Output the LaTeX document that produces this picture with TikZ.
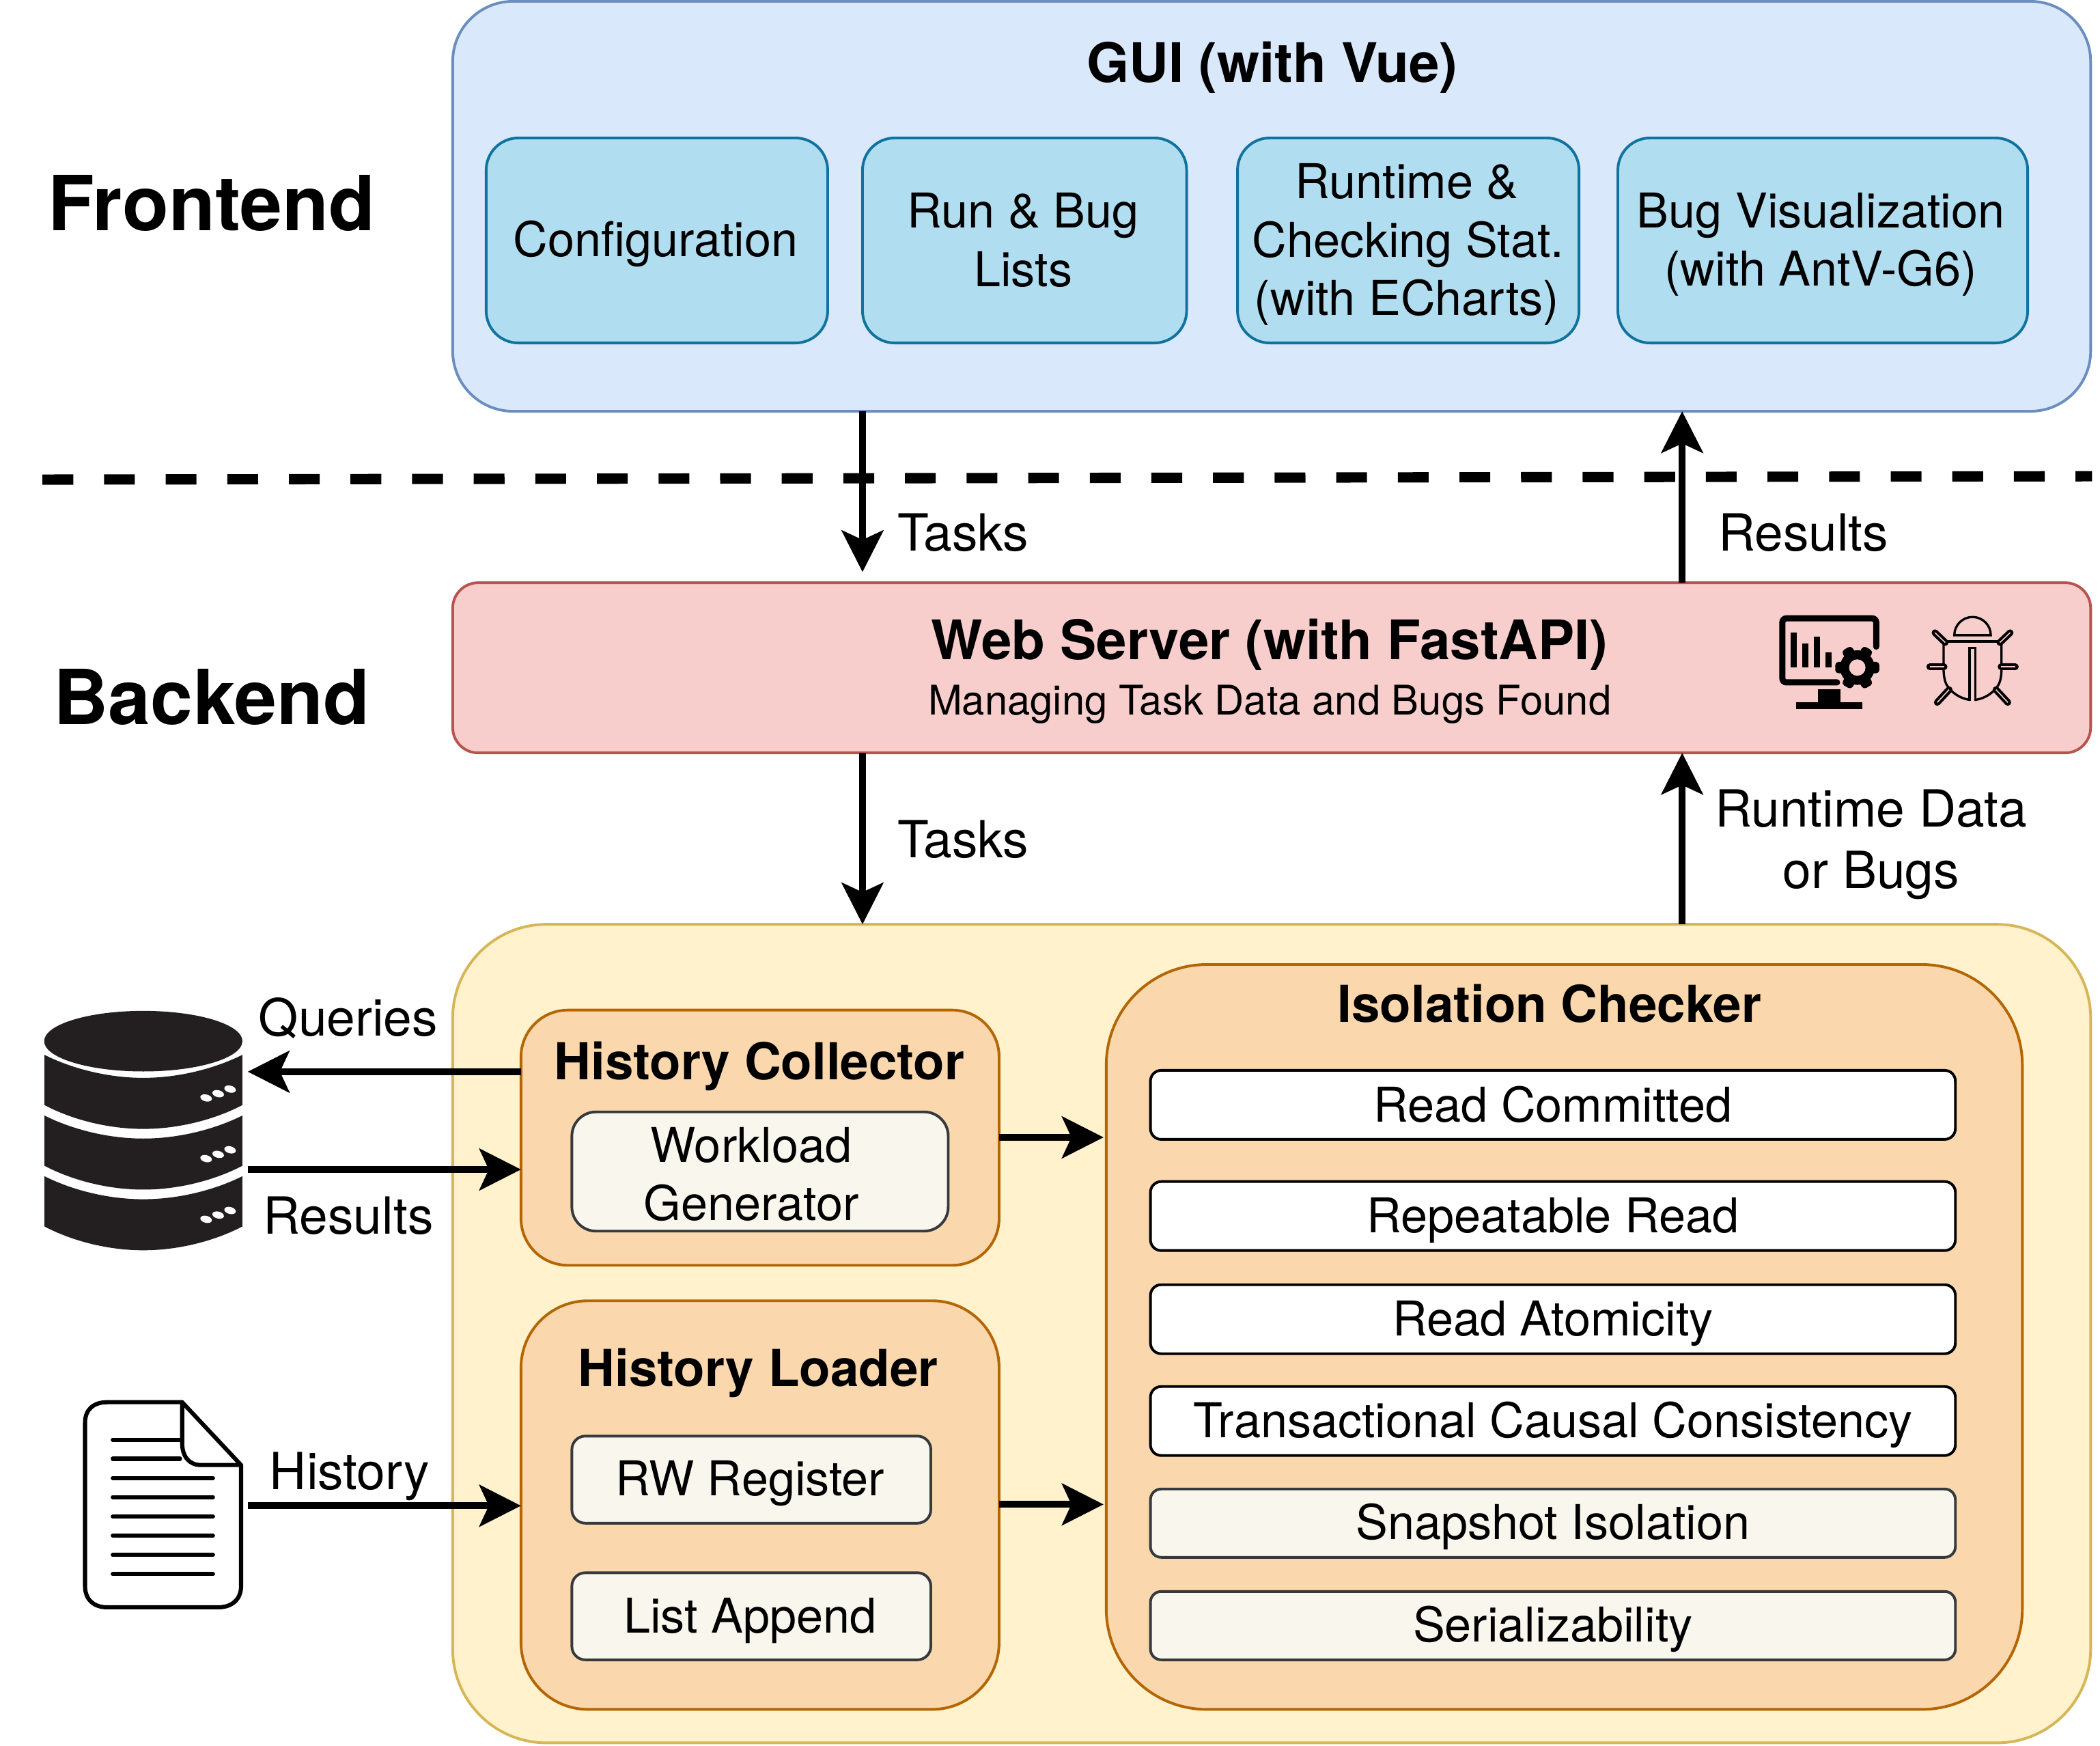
\documentclass[tikz,border=0pt]{standalone}
\usepackage{fontspec}
\setmainfont{TeX Gyre Heros}
\usetikzlibrary{arrows.meta}
\definecolor{guiF}{HTML}{DAE8FC}\definecolor{guiD}{HTML}{6C8EBF}
\definecolor{subF}{HTML}{B1DDF0}\definecolor{subD}{HTML}{10739E}
\definecolor{webF}{HTML}{F8CECC}\definecolor{webD}{HTML}{B85450}
\definecolor{ylwF}{HTML}{FFF2CC}\definecolor{ylwD}{HTML}{D6B656}
\definecolor{orgF}{HTML}{FAD7AC}\definecolor{orgD}{HTML}{B46504}
\definecolor{crmF}{HTML}{F9F7ED}\definecolor{crmD}{HTML}{36393D}
\definecolor{dbk}{HTML}{231F20}
\newcommand{\st}{\rule[-.2em]{0pt}{1.1em}}
% name, x1,y1,x2,y2, style, text
\newcommand{\bx}[7]{\node[#6,minimum width={(#4-#2)*1pt},minimum height={(#5-#3)*1pt}] (#1) at ({(#2+#4)/2},{(#3+#5)/2}) {#7};}
\tikzset{
 box/.style={draw,rectangle,inner sep=0pt,outer sep=0pt,line width=2pt,align=center,font=\fontsize{35.8}{43.5}\selectfont},
 guibox/.style={box,fill=guiF,draw=guiD,rounded corners=45pt},
 subbox/.style={box,fill=subF,draw=subD,rounded corners=24pt},
 webbox/.style={box,fill=webF,draw=webD,rounded corners=19pt},
 ylwbox/.style={box,fill=ylwF,draw=ylwD,rounded corners=70pt},
 orgbox/.style={box,fill=orgF,draw=orgD,rounded corners=#1},
 crmbox/.style={box,fill=crmF,draw=crmD,rounded corners=#1},
 whtbox/.style={box,fill=white,draw=black,rounded corners=8pt},
 lbl/.style={inner sep=0pt,outer sep=0pt,align=center,font=\fontsize{38.2}{46}\selectfont},
 ttl/.style={inner sep=0pt,outer sep=0pt,font=\fontsize{38}{46}\selectfont\bfseries},
 ttlb/.style={inner sep=0pt,outer sep=0pt,font=\fontsize{40.7}{46}\selectfont\bfseries},
 big/.style={inner sep=0pt,outer sep=0pt,font=\fontsize{56.7}{60}\selectfont\bfseries},
 anchorbox/.style={inner sep=0pt,outer sep=0pt,rectangle},
 conn/.style={line width=5.2pt,-{Stealth[length=31pt,width=31pt,inset=7pt]}},
}
\begin{document}
\begin{tikzpicture}[x=1pt,y=-1pt]
\useasboundingbox (0,0) rectangle (1568,1302.9);
\fill[white] (0,0) rectangle (1568,1302.9);
% containers
\bx{gui}{338}{1}{1561}{307}{guibox}{}
\bx{web}{338}{435}{1561}{562}{webbox}{}
\bx{core}{338}{690}{1561}{1301}{ylwbox}{}
% GUI parts
\bx{cfg}{363}{103}{618}{256}{subbox}{\st Configuration\hspace*{2pt}}
\bx{run}{644}{103}{886}{256}{subbox}{\st Run \& Bug\hspace*{2pt}\\\st Lists\hspace*{2pt}}
\bx{stat}{924}{103}{1179}{256}{subbox}{\st Runtime \&\hspace*{2pt}\\\st Checking Stat.\hspace*{2pt}\\\st (with ECharts)\hspace*{2pt}}
\bx{vis}{1208}{103}{1514}{256}{subbox}{\st Bug Visualization\hspace*{3pt}\\\st (with AntV-G6)\hspace*{3pt}}
\node[ttlb] (guit) at (950,47) {\st GUI (with Vue)};
% side labels
\node[big] (fe) at (158,152) {\st Frontend};
\node[big] (be) at (158,521) {\st Backend};
% web
\node[ttlb] (webt) at (948,478) {\st Web Server (with FastAPI)};
\node[lbl,font=\fontsize{30.5}{36}\selectfont] (webs) at (948,523) {\st Managing Task Data and Bugs Found};
% collector
\bx{hc}{389}{754}{746}{944.5}{orgbox=35pt}{}
\node[ttl] (hct) at (567,793) {\st History Collector};
\bx{wg}{427}{830}{708}{919}{crmbox=18pt}{\rule[-.2em]{0pt}{1.22em}Workload\hspace*{13pt}\\\st Generator\hspace*{13pt}}
% loader
\bx{hl}{389}{971}{746}{1276}{orgbox=50pt}{}
\node[ttl] (hlt) at (566,1022) {\st History Loader};
\bx{rw}{427}{1072}{695}{1137}{crmbox=10pt}{\st RW Register\hspace*{2pt}}
\bx{la}{427}{1174}{695}{1239}{crmbox=10pt}{\st List Append\hspace*{2pt}}
% checker
\bx{ic}{826}{720}{1510}{1276}{orgbox=75pt}{}
\node[ttl] (ict) at (1157,750) {\st Isolation Checker};
\bx{rc}{859}{799}{1460}{850.5}{whtbox}{\st Read Committed}
\bx{rr}{859}{882}{1460}{933.5}{whtbox}{\st Repeatable Read}
\bx{ra}{859}{959}{1460}{1010.5}{whtbox}{\st Read Atomicity}
\bx{tcc}{859}{1035}{1460}{1086.5}{whtbox}{\st Transactional Causal Consistency}
\bx{si}{859}{1111.5}{1460}{1162.5}{crmbox=8pt}{\st Snapshot Isolation}
\bx{ser}{859}{1188}{1460}{1239}{crmbox=8pt}{\st Serializability}
% icon place holders
\node[anchorbox,minimum width=157pt,minimum height=178pt] (db) at (106.5,843) {};
\node[anchorbox,minimum width=122pt,minimum height=154pt] (doc) at (124,1122) {};
% connector coordinates
\coordinate (xa) at (644,0);
\coordinate (xb) at (1256,0);
\coordinate (yq) at (0,800);
\coordinate (yr) at (0,873);
\coordinate (yh) at (0,1124);
\coordinate (yc) at (0,849);
\coordinate (yl) at (0,1123);
\coordinate (dl) at (31.7,358);
\coordinate (dr) at (1562,355.5);
\draw[line width=7.7pt,dash pattern=on 23pt off 23pt] (dl) -- (dr);
\draw[conn,shorten >=8pt] (xa |- gui.south) -- (xa |- web.north);
\draw[conn] (xb |- web.north) -- (xb |- gui.south);
\draw[conn] (xa |- web.south) -- (xa |- core.north);
\draw[conn] (xb |- core.north) -- (xb |- web.south);
\draw[conn] (hc.west |- yq) -- (db.east |- yq);
\draw[conn] (db.east |- yr) -- (hc.west |- yr);
\draw[conn] (doc.east |- yh) -- (hl.west |- yh);
\draw[conn,shorten >=2pt] (hc.east |- yc) -- (ic.west |- yc);
\draw[conn,shorten >=2pt] (hl.east |- yl) -- (ic.west |- yl);
% labels
\node[lbl] (l1) at (719,398) {\st Tasks};
\node[lbl] (l2) at (1346.5,398) {\st Results};
\node[lbl] (l3) at (719,627) {\st Tasks};
\node[lbl] (l4) at (1397,627) {\st Runtime Data\\\st or Bugs};
\node[lbl] (l5) at (260,760) {\st Queries};
\node[lbl] (l6) at (260,908) {\st Results};
\node[lbl] (l7) at (261,1099) {\st History};
% database icon
\fill[dbk] (107,777.2) ellipse [x radius=74,y radius=22.6];
\foreach \k in {0,1,2}{
 \pgfmathsetmacro{\t}{787.4+45.3*\k}
 \fill[dbk] (33.2,\t) .. controls (53,\t+10) and (80,\t+17.2) .. (107,\t+17.2)
   .. controls (134,\t+17.2) and (161,\t+10) .. (181,\t)
   -- (181,\t+37.5) .. controls (161,\t+48) and (134,\t+55.3) .. (107,\t+55.3)
   .. controls (80,\t+55.3) and (53,\t+48) .. (33.2,\t+37.5) -- cycle;
 \foreach \dx/\dy in {153.9/819.6,162.9/816.4,171.8/813}{
  \fill[white,rotate around={-14:(\dx,\dy+45.3*\k)}] (\dx,\dy+45.3*\k) ellipse [x radius=4.4,y radius=2.6];
 }
}
% document icon
\begin{scope}[line width=3.1pt,line cap=round,line join=round]
 \draw[fill=white] (136,1046.7) -- (80,1046.7) .. controls (70,1046.7) and (63.5,1052) .. (63.5,1062)
   -- (63.5,1184) .. controls (63.5,1194) and (70,1199.8) .. (80,1199.8) -- (163,1199.8)
   .. controls (173,1199.8) and (180,1194) .. (180,1184) -- (180,1093.6) -- cycle;
 \draw (136,1046.7) -- (136,1077) .. controls (136,1087) and (141,1093.6) .. (150,1093.6) -- (180,1093.6);
 \foreach \yy in {1074.8,1088.9}{\draw (84.2,\yy) -- (134.4,\yy);}
 \foreach \yy in {1103.3,1117.6,1132,1146.3,1160.7,1175}{\draw (84.2,\yy) -- (159,\yy);}
\end{scope}
% monitor and bug icons (inside the web server box)
\begin{scope}[shift={(1305.3,438.8)},x=0.17007pt,y=-0.17007pt]
 \draw[line width=4.6pt,line cap=round,rounded corners=3pt] (390,415) -- (150,415) -- (150,134) -- (562,134) -- (562,258);
 \fill (186,197) rectangle (214,350);
 \fill (236,245) rectangle (264,350);
 \fill (287,213) rectangle (315,350);
 \fill (338,284) rectangle (365,350);
 \fill (306,446) rectangle (406,505);
 \fill (210,503) rectangle (502,532);
 \fill (479,350) circle [radius=76];
 \foreach \a in {0,60,120,180,240,300}{
  \fill[rotate around={\a:(479,350)},rounded corners=2.5pt] (479,325) rectangle (576,375);
 }
 \fill[webF] (479,350) circle [radius=36];
 % bug
 \begin{scope}[line width=1.7pt,line cap=butt]
  \draw (905,208) arc [start angle=180,end angle=360,radius=80] -- cycle;
 \end{scope}
 \begin{scope}[line width=1.7pt]
  \draw (870,235) -- (1100,235);
  \draw (858,245) -- (858,365) .. controls (860,405) and (868,425) .. (880,438);
  \draw (1112,245) -- (1112,365) .. controls (1110,405) and (1102,425) .. (1090,438);
  \draw (890,450) .. controls (915,475) and (945,488) .. (975,492);
  \draw (1080,450) .. controls (1055,475) and (1025,488) .. (995,492);
  \draw (972,495) -- (972,264) -- (998,264) -- (998,495);
 \end{scope}
 \foreach \ax/\ay/\bx/\by in {797/347/860/347,1173/347/1110/347,820/197/865/240,1150/197/1105/240,830/503/882/447,1140/503/1088/447}{
  \draw[line width=5pt,line cap=round] (\ax,\ay) -- (\bx,\by);
  \draw[webF,line width=.8pt] (\ax,\ay) -- (\bx,\by);
 }
\end{scope}
\end{tikzpicture}
\end{document}
